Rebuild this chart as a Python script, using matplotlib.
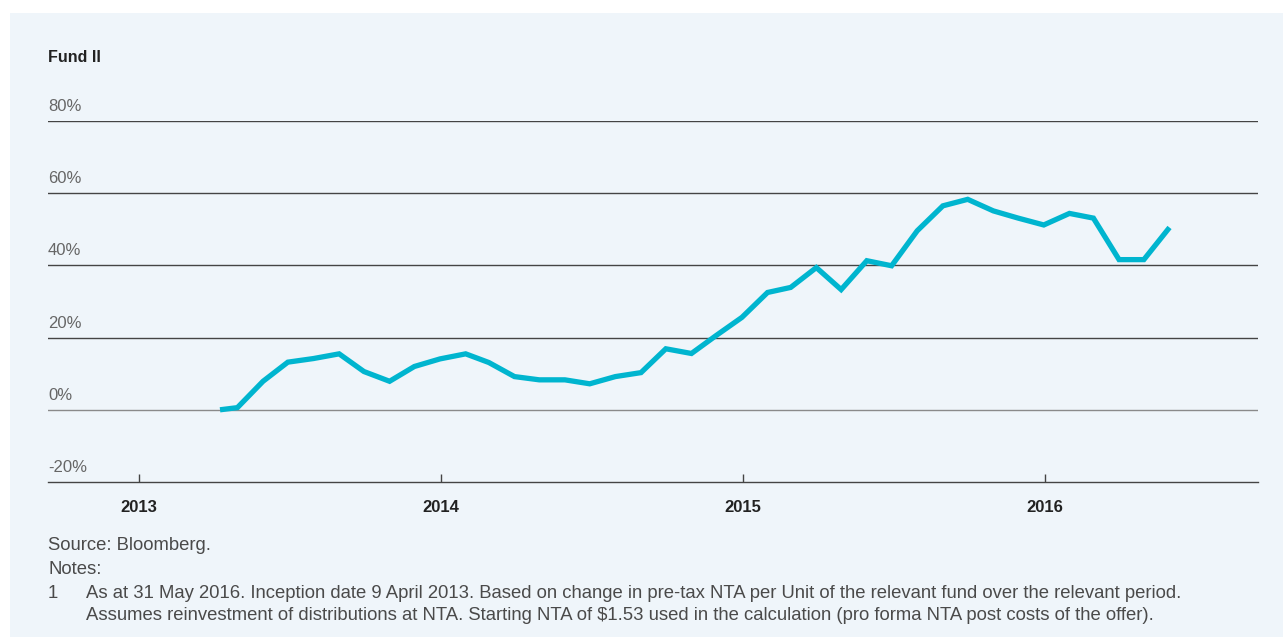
import pandas as pd
import matplotlib.pyplot as plt
from matplotlib.patches import Rectangle

plt.rcParams['font.family'] = ['Liberation Sans', 'DejaVu Sans']

# Data
DATES = [pd.Timestamp('2013-04-09')] + list(
    pd.date_range('2013-04-30', '2016-05-31', freq='ME'))
VALUES = [0.0, 0.6, 7.9, 13.2, 14.2, 15.5, 10.6, 7.9, 12.0, 14.1, 15.5,
          13.1, 9.2, 8.3, 8.3, 7.2, 9.2, 10.3, 16.9, 15.6, 20.6, 25.6,
          32.5, 33.9, 39.4, 33.3, 41.3, 39.9, 49.6, 56.5, 58.3, 55.1, 53.1, 51.2,
          54.4, 53.1, 41.6, 41.6, 50.5]
Y_TICKS = [-20, 0, 20, 40, 60, 80]
YEARS = [2013, 2014, 2015, 2016]

TITLE = 'Fund II'
SOURCE = 'Source: Bloomberg.'
NOTES = 'Notes:'
NOTE1 = ['As at 31 May 2016. Inception date 9 April 2013. Based on change in pre-tax NTA per Unit of the relevant fund over the relevant period.',
         'Assumes reinvestment of distributions at NTA. Starting NTA of $1.53 used in the calculation (pro forma NTA post costs of the offer).']

W, H = 1283, 637
BG = '#eff5fa'
LINE = '#00b5cf'
TXT = '#4a4a4a'

fig = plt.figure(figsize=(W / 100, H / 100), dpi=100, facecolor='white')
fig.patches.append(Rectangle((10 / W, 0), 1 - 10 / W, 1 - 13 / H,
                             transform=fig.transFigure, facecolor=BG,
                             edgecolor='none', zorder=-10))

ax = fig.add_axes([48 / W, 1 - 482 / H, (1258 - 48) / W, (482 - 121) / H])
ax.set_facecolor('none')

ax.plot(DATES, VALUES, color=LINE, lw=3.8, solid_joinstyle='miter',
        solid_capstyle='butt', zorder=5, clip_on=False)

# gridlines + labels
for v in Y_TICKS:
    if v == -20:
        continue
    col = '#8a8a8a' if v == 0 else '#444444'
    ax.axhline(v, color=col, lw=1.0, zorder=1)
for v in Y_TICKS:
    ax.annotate('%d%%' % v, xy=(0, v), xycoords=('axes fraction', 'data'),
                xytext=(0, 5), textcoords='offset points', ha='left',
                va='bottom', fontsize=12, color='#666666')

ax.set_ylim(-20, 80)
ax.set_xlim(pd.Timestamp('2012-09-13'), pd.Timestamp('2016-09-15'))

for s in ['top', 'right', 'left']:
    ax.spines[s].set_visible(False)
ax.spines['bottom'].set_color('#444444')
ax.spines['bottom'].set_linewidth(1.0)
ax.set_yticks([])
ax.set_xticks([pd.Timestamp('%d-01-01' % y) for y in YEARS])
ax.set_xticklabels([str(y) for y in YEARS], fontsize=12, fontweight='bold',
                   color='#222222')
ax.tick_params(axis='x', direction='in', length=6, width=1.0,
               color='#444444', pad=13)

fig.text(48 / W, 1 - 58 / H, TITLE, fontsize=11.5, fontweight='bold',
         color='#222222', va='center', ha='left')
fig.text(48 / W, 1 - 545 / H, SOURCE, fontsize=13.3, color=TXT, va='center')
fig.text(48 / W, 1 - 569 / H, NOTES, fontsize=13.3, color=TXT, va='center')
fig.text(48 / W, 1 - 593 / H, '1', fontsize=13.3, color=TXT, va='center')
fig.text(86 / W, 1 - 593 / H, NOTE1[0], fontsize=13.3, color=TXT, va='center')
fig.text(86 / W, 1 - 616 / H, NOTE1[1], fontsize=13.3, color=TXT, va='center')

fig.savefig('out.png', dpi=100, facecolor=fig.get_facecolor())
